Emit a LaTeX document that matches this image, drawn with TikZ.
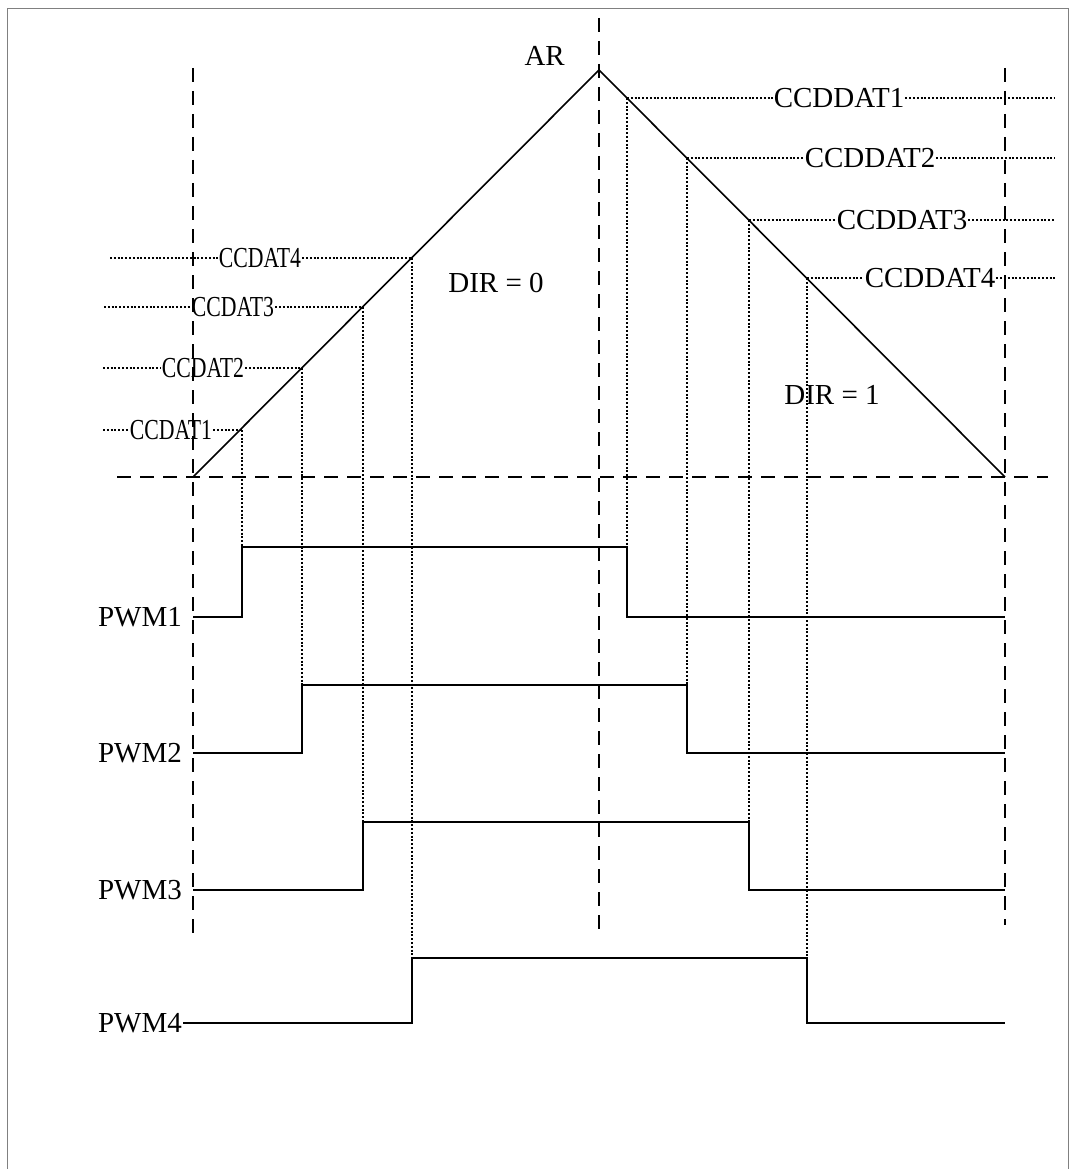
\documentclass[tikz,border=0pt]{standalone}
\usepackage{fontspec}
\setmainfont{Liberation Serif}
\newfontfamily\narrowserif[FakeStretch=0.75]{Liberation Serif}

\begin{document}
\begin{tikzpicture}[x=1pt,y=-1pt,
    dashline/.style={dash pattern=on 14pt off 9pt,line width=1.5pt},
    dotline/.style={dash pattern=on 2pt off 1.8pt,line width=1.4pt},
    sig/.style={line width=1.6pt},
    lab/.style={inner sep=1pt,font=\fontsize{29}{34}\selectfont},
    narrowlab/.style={inner sep=1pt,font=\narrowserif\fontsize{29}{34}\selectfont}]
    \useasboundingbox (0,0) rectangle (1071,1169);
    %cornice
    \draw[gray,line width=1pt] (7,1169)--(7,9)--(1068,9)--(1068,1169);

    %assi tratteggiati
    \draw[dashline] (117,477)--(1048,477);
    \draw[dashline] (193,68)--(193,935);
    \draw[dashline] (599,18)--(599,935);
    \draw[dashline] (1005,68)--(1005,925);

    %rampa
    \coordinate (O) at (193,477);
    \coordinate (top) at (599,70);
    \coordinate (E) at (1005,477);
    \draw[sig] (O)--(top)--(E);
    \node[lab,anchor=east] (ar) at (566,56) {AR};
    \node[lab] (dir0) at (496,283) {DIR = 0};
    \node[lab] (dir1) at (832,395) {DIR = 1};

    %livelli in salita
    \foreach \n/\yc/\xs/\xc/\xp in {1/430/103/171/242, 2/368/103/203/302, 3/307/104/233/363, 4/258/110/260/412}{
        \coordinate (ls\n) at (\xs,\yc);
        \coordinate (p\n) at (\xp,\yc);
        \node[narrowlab] (c\n) at (\xc,\yc) {CCDAT\n};
        \draw[dotline] (ls\n)--(c\n.west);
        \draw[dotline] (c\n.east)--(p\n);
    }

    %livelli in discesa
    \foreach \n/\yc/\xq/\xc in {1/98/627/839, 2/158/687/870, 3/220/749/902, 4/278/807/930}{
        \coordinate (q\n) at (\xq,\yc);
        \coordinate (re\n) at (1055,\yc);
        \node[lab] (d\n) at (\xc,\yc) {CCDDAT\n};
        \draw[dotline] (q\n)--(d\n.west);
        \draw[dotline] (d\n.east)--(re\n);
    }

    %segnali PWM
    \foreach \n/\lo/\hi/\xa/\xb in {1/617/547/242/627, 2/753/685/302/687, 3/890/822/363/749, 4/1023/958/412/807}{
        \node[lab,anchor=east] (pwm\n) at (183,\lo) {PWM\n};
        \coordinate (up\n) at (\xa,\hi);
        \coordinate (dn\n) at (\xb,\hi);
        \draw[dotline] (p\n)--(up\n);
        \draw[dotline] (q\n)--(dn\n);
    }
    \foreach \n/\lo/\hi/\xa/\xb in {1/617/547/242/627, 2/753/685/302/687, 3/890/822/363/749}{
        \draw[sig] (193,\lo)--(\xa,\lo)--(up\n)--(dn\n)--(\xb,\lo)--(1005,\lo);
    }
    \draw[sig] (pwm4.east)--(412,1023)--(up4)--(dn4)--(807,1023)--(1005,1023);
\end{tikzpicture}
\end{document}
